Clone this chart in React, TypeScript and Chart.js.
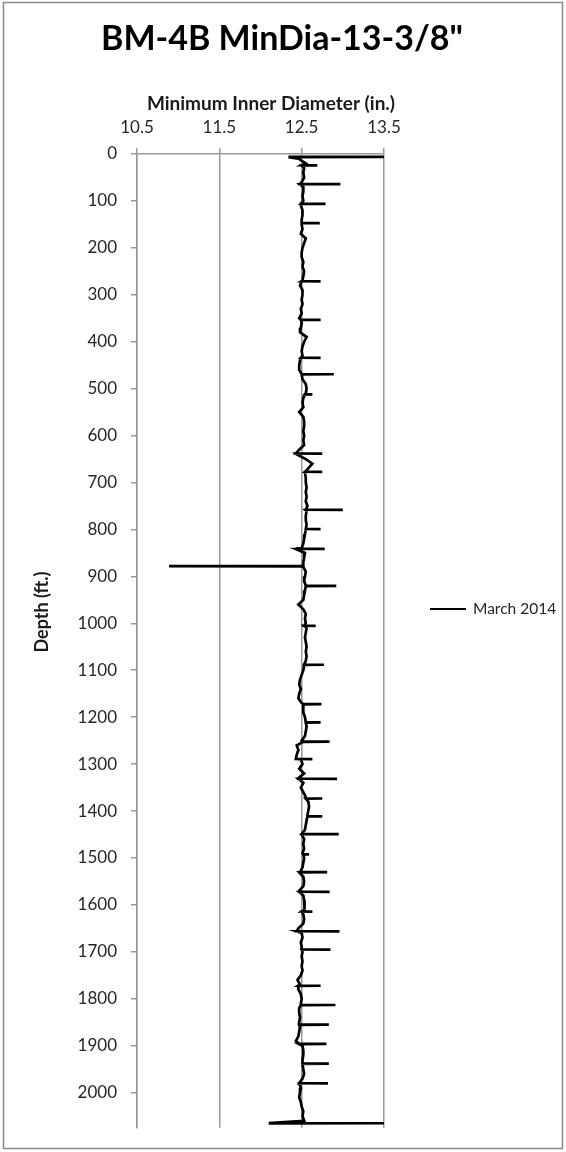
import React, { useEffect, useRef } from "react";
import { Chart, registerables } from "chart.js";

Chart.register(...registerables);

const TITLE = 'BM-4B MinDia-13-3/8"';
const X_TITLE = "Minimum Inner Diameter (in.)";
const Y_TITLE = "Depth (ft.)";
const SERIES_LABEL = "March 2014";

const X_TICKS = [10.5, 11.5, 12.5, 13.5];
const Y_TICKS = [0, 100, 200, 300, 400, 500, 600, 700, 800, 900, 1000, 1100, 1200, 1300, 1400, 1500, 1600, 1700, 1800, 1900, 2000];

// Baseline readings (depth ft / min inner diameter in.)
const baseDepths = [
  10, 20, 30, 40, 50, 60, 70, 80, 90,
  100, 110, 120, 130, 140, 150, 160, 170, 180, 190,
  200, 210, 220, 230, 240, 250, 260, 270, 280, 290,
  300, 310, 320, 330, 340, 350, 360, 370, 380, 390,
  400, 410, 420, 430, 440, 450, 460, 470, 480, 490,
  500, 510, 520, 530, 540, 550, 560, 570, 580, 590,
  600, 610, 620, 630, 640, 650, 660, 670, 680, 690,
  700, 710, 720, 730, 740, 750, 760, 770, 780, 790,
  800, 810, 820, 830, 840, 850, 860, 870, 880, 890,
  900, 910, 920, 930, 940, 950, 960, 970, 980, 990,
  1000, 1010, 1020, 1030, 1040, 1050, 1060, 1070, 1080, 1090,
  1100, 1110, 1120, 1130, 1140, 1150, 1160, 1170, 1180, 1190,
  1200, 1210, 1220, 1230, 1240, 1250, 1260, 1270, 1280, 1290,
  1300, 1310, 1320, 1330, 1340, 1350, 1360, 1370, 1380, 1390,
  1400, 1410, 1420, 1430, 1440, 1450, 1460, 1470, 1480, 1490,
  1500, 1510, 1520, 1530, 1540, 1550, 1560, 1570, 1580, 1590,
  1600, 1610, 1620, 1630, 1640, 1650, 1660, 1670, 1680, 1690,
  1700, 1710, 1720, 1730, 1740, 1750, 1760, 1770, 1780, 1790,
  1800, 1810, 1820, 1830, 1840, 1850, 1860, 1870, 1880, 1890,
  1900, 1910, 1920, 1930, 1940, 1950, 1960, 1970, 1980, 1990,
  2000, 2010, 2020, 2030, 2040, 2050, 2060,
];
const baseValues = [
  12.46, 12.55, 12.53, 12.52, 12.53, 12.50, 12.52, 12.52, 12.51,
  12.52, 12.49, 12.51, 12.51, 12.50, 12.50, 12.51, 12.49, 12.55, 12.53,
  12.51, 12.50, 12.50, 12.52, 12.51, 12.53, 12.52, 12.51, 12.48, 12.51,
  12.51, 12.50, 12.51, 12.49, 12.50, 12.47, 12.50, 12.49, 12.48, 12.56,
  12.53, 12.51, 12.50, 12.51, 12.48, 12.47, 12.47, 12.50, 12.51, 12.55,
  12.56, 12.55, 12.52, 12.51, 12.52, 12.47, 12.52, 12.53, 12.53, 12.52,
  12.53, 12.52, 12.53, 12.47, 12.44, 12.55, 12.63, 12.58, 12.54, 12.55,
  12.55, 12.56, 12.55, 12.56, 12.55, 12.57, 12.56, 12.55, 12.55, 12.56,
  12.55, 12.54, 12.53, 12.52, 12.50, 12.54, 12.53, 12.52, 12.52, 12.55,
  12.54, 12.53, 12.55, 12.54, 12.53, 12.52, 12.46, 12.52, 12.55, 12.54,
  12.55, 12.56, 12.55, 12.54, 12.55, 12.56, 12.55, 12.56, 12.55, 12.53,
  12.52, 12.50, 12.48, 12.47, 12.49, 12.47, 12.46, 12.50, 12.52, 12.52,
  12.54, 12.55, 12.56, 12.55, 12.54, 12.50, 12.44, 12.46, 12.44, 12.49,
  12.51, 12.47, 12.53, 12.46, 12.52, 12.49, 12.52, 12.55, 12.58, 12.59,
  12.58, 12.57, 12.56, 12.55, 12.54, 12.50, 12.53, 12.52, 12.53, 12.51,
  12.53, 12.52, 12.51, 12.48, 12.52, 12.53, 12.52, 12.47, 12.52, 12.53,
  12.54, 12.53, 12.52, 12.53, 12.52, 12.46, 12.50, 12.51, 12.49, 12.50,
  12.51, 12.50, 12.51, 12.50, 12.51, 12.49, 12.45, 12.48, 12.46, 12.49,
  12.50, 12.49, 12.47, 12.47, 12.48, 12.47, 12.48, 12.47, 12.46, 12.43,
  12.51, 12.52, 12.52, 12.51, 12.51, 12.52, 12.53, 12.51, 12.47, 12.49,
  12.48, 12.47, 12.49, 12.50, 12.52, 12.51, 12.53,
];

// Collar / anomaly readings: depth, reading before, peak reading
const spikeDepths = [6, 24, 64, 106, 147, 271, 353, 434, 469, 512, 638, 677, 758, 799, 841, 878, 920, 1005, 1088, 1172, 1211, 1252, 1289, 1331, 1373, 1411, 1449, 1492, 1530, 1572, 1614, 1656, 1695, 1772, 1813, 1855, 1896, 1938, 1980, 2065];
const spikeFrom = [12.34, 12.50, 12.48, 12.49, 12.50, 12.50, 12.49, 12.49, 12.50, 12.54, 12.43, 12.54, 12.55, 12.55, 12.43, 12.52, 12.55, 12.53, 12.53, 12.52, 12.55, 12.52, 12.43, 12.46, 12.55, 12.57, 12.50, 12.52, 12.47, 12.47, 12.50, 12.44, 12.50, 12.46, 12.49, 12.47, 12.47, 12.51, 12.47, 12.10];
const spikeTo = [13.5, 12.69, 12.97, 12.79, 12.72, 12.73, 12.73, 12.73, 12.89, 12.63, 12.75, 12.75, 13.0, 12.73, 12.78, 10.89, 12.92, 12.67, 12.77, 12.74, 12.73, 12.84, 12.63, 12.93, 12.75, 12.75, 12.95, 12.59, 12.81, 12.84, 12.63, 12.96, 12.85, 12.73, 12.91, 12.83, 12.80, 12.83, 12.82, 13.5];

const X_MIN = 10.5;
const X_MAX = 13.5;
const Y_MIN = 0;
const Y_MAX = 2075;

function buildPoints() {
  const pts: { x: number; y: number }[] = [];
  baseDepths.forEach((d, i) => pts.push({ x: baseValues[i], y: d }));
  spikeDepths.forEach((d, i) => {
    pts.push({ x: spikeFrom[i], y: d });
    pts.push({ x: spikeTo[i], y: d + 0.3 });
    pts.push({ x: spikeFrom[i], y: d + 0.6 });
  });
  pts.sort((a, b) => a.y - b.y);
  return pts;
}

const FONT = "Lato, 'Open Sans', sans-serif";

const decorPlugin = {
  id: "decor",
  beforeDraw(chart: any) {
    const ctx = chart.ctx;
    ctx.save();
    ctx.fillStyle = "#ffffff";
    ctx.fillRect(0, 0, chart.width, chart.height);
    ctx.restore();
  },
  afterDraw(chart: any) {
    const ctx = chart.ctx;
    ctx.save();
    // outer border
    ctx.strokeStyle = "#8a8a8a";
    ctx.lineWidth = 1.5;
    ctx.strokeRect(3.5, 2.5, 559, 1146);

    ctx.fillStyle = "#000000";
    ctx.textAlign = "center";
    ctx.textBaseline = "middle";
    // main title
    ctx.font = `bold 34px ${FONT}`;
    ctx.fillText(TITLE, 282, 39);
    // x axis title
    ctx.font = `bold 19px ${FONT}`;
    ctx.fillStyle = "#1a1a1a";
    ctx.fillText(X_TITLE, 271, 104);
    // y axis title
    ctx.save();
    ctx.translate(42, 612);
    ctx.rotate(-Math.PI / 2);
    ctx.font = `bold 18px ${FONT}`;
    ctx.fillText(Y_TITLE, 0, 0);
    ctx.restore();
    // legend
    const ds = chart.data.datasets[0];
    const ly = 609;
    ctx.strokeStyle = ds.borderColor;
    ctx.lineWidth = 2;
    ctx.beginPath();
    ctx.moveTo(430, ly);
    ctx.lineTo(466, ly);
    ctx.stroke();
    ctx.textAlign = "left";
    ctx.font = `15.5px ${FONT}`;
    ctx.fillStyle = "#262626";
    ctx.fillText(ds.label, 473, ly);
    ctx.restore();
  },
};

export default function App() {
  const ref = useRef<HTMLCanvasElement | null>(null);
  useEffect(() => {
    document.body.style.margin = "0";
    const canvas = ref.current;
    if (!canvas) return;
    const gridColor = "#999999";
    const chart = new Chart(canvas, {
      type: "line",
      data: {
        datasets: [
          {
            label: SERIES_LABEL,
            data: buildPoints(),
            borderColor: "#000000",
            borderWidth: 2.7,
            pointRadius: 0,
            tension: 0,
            fill: false,
          },
        ],
      },
      options: {
        animation: false,
        responsive: false,
        indexAxis: "y",
        layout: { padding: { left: 0, right: 182, top: 0, bottom: 24 } },
        plugins: {
          legend: { display: false },
          title: { display: false },
          tooltip: { enabled: false },
        },
        scales: {
          x: {
            type: "linear",
            position: "top",
            min: X_MIN,
            max: X_MAX,
            afterBuildTicks: (s: any) => {
              s.ticks = X_TICKS.map((v) => ({ value: v }));
            },
            afterFit: (s: any) => {
              s.height = 154;
            },
            grid: {
              display: true,
              drawOnChartArea: true,
              drawTicks: true,
              tickLength: 6,
              color: gridColor,
              lineWidth: 1.5,
            },
            border: { display: true, color: gridColor, width: 1.5 },
            ticks: {
              padding: 10,
              color: "#262626",
              font: { family: FONT, size: 17 },
              callback: (v: any) => Number(v).toFixed(1),
              maxRotation: 0,
            },
            title: { display: false },
          },
          y: {
            type: "linear",
            position: "left",
            reverse: true,
            min: Y_MIN,
            max: Y_MAX,
            afterBuildTicks: (s: any) => {
              s.ticks = Y_TICKS.map((v) => ({ value: v }));
            },
            afterFit: (s: any) => {
              s.width = 137;
            },
            grid: {
              display: true,
              drawOnChartArea: false,
              drawTicks: true,
              tickLength: 6,
              color: gridColor,
              lineWidth: 1.5,
            },
            border: { display: true, color: gridColor, width: 1.5 },
            ticks: {
              padding: 14,
              color: "#262626",
              font: { family: FONT, size: 17 },
              callback: (v: any) => String(v),
            },
            title: { display: false },
          },
        },
      },
      plugins: [decorPlugin],
    });
    return () => chart.destroy();
  }, []);
  return (
    <div style={{ position: "relative", width: 566, height: 1152 }}>
      <canvas ref={ref} width={566} height={1152} style={{ display: "block", width: 566, height: 1152 }} />
    </div>
  );
}
